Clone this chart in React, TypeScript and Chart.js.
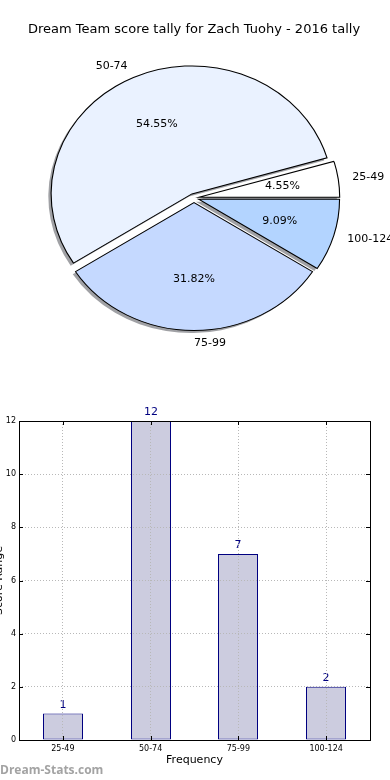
import React, { useEffect, useRef } from 'react';
import { Chart, registerables } from 'chart.js';

Chart.register(...registerables);

const categories = ['25-49', '50-74', '75-99', '100-124'];
const counts = [1, 12, 7, 2];
const pieColors = ['#ffffff', '#eaf2ff', '#c5d9ff', '#b3d4ff'];
const yTicks = [0, 2, 4, 6, 8, 10, 12];
const titleText = 'Dream Team score tally for Zach Tuohy - 2016 tally';
const xTitle = 'Frequency';
const yTitle = 'Score Range';
const watermark = 'Dream-Stats.com';

const FONT = '"DejaVu Sans", sans-serif';
const SX = 1.1; // horizontal stretch of the pie (ellipse)
const EXPLODE = 4.5;
const PIE_R = 128;

const piePlugin = {
  id: 'pieExplode',
  beforeDatasetDraw(chart: any, args: any) {
    const ctx = chart.ctx;
    const arcs = args.meta.data;
    // shadows first
    arcs.forEach((arc: any) => {
      const p = arc.getProps(['x', 'y', 'startAngle', 'endAngle', 'outerRadius'], true);
      const mid = (p.startAngle + p.endAngle) / 2;
      ctx.save();
      ctx.translate(p.x - 2.8, p.y + 2.6);
      ctx.scale(SX, 1);
      ctx.translate(Math.cos(mid) * EXPLODE, Math.sin(mid) * EXPLODE);
      ctx.beginPath();
      ctx.moveTo(0, 0);
      ctx.arc(0, 0, p.outerRadius, p.startAngle, p.endAngle);
      ctx.closePath();
      ctx.fillStyle = 'rgba(65,68,75,0.5)';
      ctx.fill();
      ctx.restore();
    });
    arcs.forEach((arc: any) => {
      const p = arc.getProps(['x', 'y', 'startAngle', 'endAngle'], true);
      const mid = (p.startAngle + p.endAngle) / 2;
      ctx.save();
      ctx.translate(p.x, p.y);
      ctx.scale(SX, 1);
      ctx.translate(Math.cos(mid) * EXPLODE, Math.sin(mid) * EXPLODE);
      ctx.translate(-p.x, -p.y);
      arc.draw(ctx);
      ctx.restore();
    });
    return false;
  },
  afterDatasetsDraw(chart: any) {
    const ctx = chart.ctx;
    const meta = chart.getDatasetMeta(0);
    const data = chart.data.datasets[0].data as number[];
    const labels = chart.data.labels as string[];
    const total = data.reduce((a, b) => a + b, 0);
    ctx.save();
    ctx.font = `11px ${FONT}`;
    ctx.fillStyle = '#000';
    ctx.textBaseline = 'middle';
    meta.data.forEach((arc: any, i: number) => {
      const p = arc.getProps(['x', 'y', 'startAngle', 'endAngle', 'outerRadius'], true);
      const mid = (p.startAngle + p.endAngle) / 2;
      const c = Math.cos(mid);
      const s = Math.sin(mid);
      const ex = p.x + SX * c * EXPLODE;
      const ey = p.y + s * EXPLODE;
      const r = p.outerRadius;
      ctx.textAlign = c >= -1e-6 ? 'left' : 'right';
      ctx.fillText(labels[i], ex + 1.1 * SX * r * c, ey + 1.1 * r * s);
      ctx.textAlign = 'center';
      const pct = ((data[i] / total) * 100).toFixed(2) + '%';
      ctx.fillText(pct, ex + 0.6 * SX * r * c, ey + 0.6 * r * s);
    });
    ctx.restore();
  },
};

const barPlugin = {
  id: 'barExtras',
  beforeDatasetsDraw(chart: any) {
    // snap bars to whole pixels for crisp edges
    const meta = chart.getDatasetMeta(0);
    meta.data.forEach((bar: any) => {
      const w = Math.round(bar.width);
      const left = Math.round(bar.x - bar.width / 2);
      bar.width = w;
      bar.x = left + w / 2;
    });
  },
  afterDatasetsDraw(chart: any) {
    const ctx = chart.ctx;
    const meta = chart.getDatasetMeta(0);
    const data = chart.data.datasets[0].data as number[];
    ctx.save();
    ctx.font = `11px ${FONT}`;
    ctx.fillStyle = '#000080';
    ctx.textAlign = 'center';
    ctx.textBaseline = 'middle';
    meta.data.forEach((bar: any, i: number) => {
      ctx.fillText(String(data[i]), bar.x, bar.y - 8.5);
    });
    ctx.restore();
  },
  afterDraw(chart: any) {
    const ctx = chart.ctx;
    const a = chart.chartArea;
    const xs = chart.scales.x;
    const ys = chart.scales.y;
    ctx.save();
    ctx.strokeStyle = '#000';
    ctx.lineWidth = 1;
    ctx.beginPath();
    ys.ticks.forEach((t: any) => {
      const y = Math.round(ys.getPixelForValue(t.value)) + 0.5;
      ctx.moveTo(a.left, y);
      ctx.lineTo(a.left + 4, y);
      ctx.moveTo(a.right, y);
      ctx.lineTo(a.right - 4, y);
    });
    xs.ticks.forEach((t: any, i: number) => {
      const x = Math.round(xs.getPixelForTick(i)) + 0.5;
      ctx.moveTo(x, a.bottom);
      ctx.lineTo(x, a.bottom - 4);
      ctx.moveTo(x, a.top);
      ctx.lineTo(x, a.top + 4);
    });
    ctx.stroke();
    ctx.strokeRect(Math.round(a.left) + 0.5, Math.round(a.top) + 0.5, Math.round(a.right - a.left), Math.round(a.bottom - a.top));
    ctx.restore();
  },
};

export default function App() {
  const pieRef = useRef<HTMLCanvasElement>(null);
  const barRef = useRef<HTMLCanvasElement>(null);

  useEffect(() => {
    const pie = new Chart(pieRef.current as HTMLCanvasElement, {
      type: 'pie',
      data: {
        labels: [...categories].reverse(),
        datasets: [
          {
            data: [...counts].reverse(),
            backgroundColor: [...pieColors].reverse(),
            borderColor: '#000',
            borderWidth: 1,
            borderJoinStyle: 'miter',
          } as any,
        ],
      },
      options: {
        animation: false,
        responsive: false,
        events: [],
        rotation: 90,
        radius: PIE_R,
        layout: { padding: { left: 0, right: 2, top: 0, bottom: 73.5 } },
        plugins: {
          legend: { display: false },
          tooltip: { enabled: false },
          title: {
            display: true,
            text: titleText,
            color: '#000',
            font: { family: FONT, size: 13, weight: 'normal', lineHeight: 1.2 },
            padding: { top: 22.2, bottom: 31.7 },
          },
        },
      } as any,
      plugins: [piePlugin],
    });

    const tickFont = { family: FONT, size: 8 };
    const bar = new Chart(barRef.current as HTMLCanvasElement, {
      type: 'bar',
      data: {
        labels: categories,
        datasets: [
          {
            data: counts,
            backgroundColor: '#ccccdf',
            borderColor: '#000080',
            borderWidth: 1,
            borderSkipped: false,
            barPercentage: 0.456,
            categoryPercentage: 1,
          } as any,
        ],
      },
      options: {
        animation: false,
        responsive: false,
        events: [],
        layout: { padding: { left: 0, right: 20, top: 21, bottom: 13.4 } },
        plugins: { legend: { display: false }, tooltip: { enabled: false } },
        scales: {
          x: {
            offset: true,
            grid: { offset: false, color: '#b8b8b8', lineWidth: 1, drawTicks: false, z: 1 },
            border: { display: false, dash: [1, 2] },
            ticks: { font: tickFont, color: '#000', padding: 4, maxRotation: 0 },
            title: { display: true, text: xTitle, color: '#000', font: { family: FONT, size: 11 }, padding: 0 },
            afterFit: (s: any) => {
              s.height = 26.6;
            },
          },
          y: {
            min: 0,
            max: 12,
            grid: { color: '#b8b8b8', lineWidth: 1, drawTicks: false, z: 1 },
            border: { display: false, dash: [1, 2] },
            ticks: { font: tickFont, color: '#000', padding: 3 },
            afterBuildTicks: (s: any) => {
              s.ticks = yTicks.map((v) => ({ value: v }));
            },
            title: { display: true, text: yTitle, color: '#000', font: { family: FONT, size: 11 }, padding: { top: 4.8, bottom: 0 } },
            afterFit: (s: any) => {
              s.width = 31;
            },
          },
        },
      } as any,
      plugins: [barPlugin],
    });

    return () => {
      pie.destroy();
      bar.destroy();
    };
  }, []);

  return (
    <div
      style={{
        position: 'fixed',
        left: 0,
        top: 0,
        width: 390,
        height: 780,
        background: '#fff',
        overflow: 'hidden',
      }}
    >
      <canvas ref={pieRef} width={390} height={400} style={{ position: 'absolute', left: 0, top: 0 }} />
      <canvas ref={barRef} width={402} height={380} style={{ position: 'absolute', left: -12, top: 400 }} />
      <div
        style={{
          position: 'absolute',
          left: 0,
          top: 761,
          font: 'bold 12px "Open Sans", sans-serif',
          lineHeight: '18px',
          color: '#a3a3a3',
          whiteSpace: 'nowrap',
        }}
      >
        {watermark}
      </div>
    </div>
  );
}
